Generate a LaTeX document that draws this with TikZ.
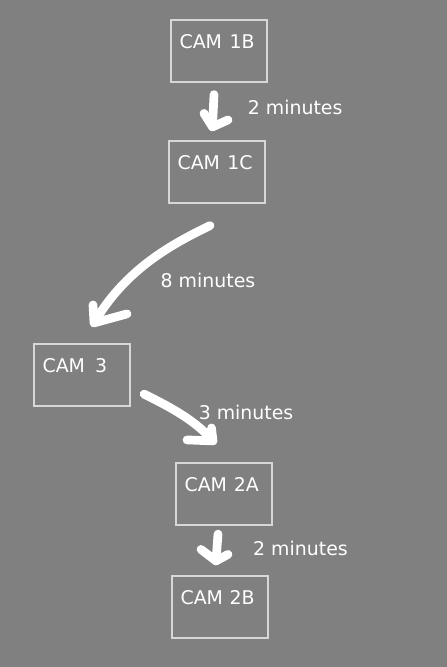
\documentclass[tikz,border=0pt]{standalone}
\usepackage{fontspec}
\setmainfont{DejaVu Sans}
\usetikzlibrary{calc}
\definecolor{bg}{RGB}{128,128,128}
\definecolor{boxline}{RGB}{215,215,215}
\tikzset{
  camera/.style={draw=boxline, line width=1.2pt, minimum width=96pt, minimum height=62pt, inner sep=0pt},
  camtext/.style={anchor=base west, inner sep=0pt, text=white, font=\fontsize{18.9}{22}\selectfont},
  timetext/.style={anchor=base west, inner sep=0pt, text=white, font=\fontsize{18.9}{22}\selectfont},
  stroke/.style={draw=white, line width=8.7pt, line cap=round, line join=round}
}
\begin{document}
\begin{tikzpicture}[x=1pt,y=-1pt]
\fill[bg] (0,0) rectangle (447,667);
\useasboundingbox (0,0) rectangle (447,667);
% boxes
\node[camera] (b1) at (219,51) {};
\node[camera] (c1) at (217,172) {};
\node[camera] (c3) at (82,375) {};
\node[camera] (a2) at (224,494) {};
\node[camera] (b2) at (220,607) {};
% box texts
\node[camtext] (t1) at ($(b1.north west)+(9,28.7)$) {CAM\hspace{7.7pt}1B};
\node[camtext] (t2) at ($(c1.north west)+(9,28.7)$) {CAM\hspace{7.3pt}1C};
\node[camtext] (t3) at ($(c3.north west)+(9,28.7)$) {CAM\hspace{10pt}3};
\node[camtext] (t4) at ($(a2.north west)+(9,28.7)$) {CAM\hspace{6.9pt}2A};
\node[camtext] (t5) at ($(b2.north west)+(9,28.7)$) {CAM\hspace{6.7pt}2B};
% time labels
\node[timetext] (l1) at (247.7,114.5) {2 minutes};
\node[timetext] (l2) at (160.5,287.5) {8 minutes};
\node[timetext] (l3) at (198.6,419.5) {3 minutes};
\node[timetext] (l4) at (253,555) {2 minutes};
% arrow 1: 1B -> 1C
\coordinate (a1s) at ($(b1.south)+(-5,12)$);
\coordinate (a1t) at ($(c1.north)+(-4.5,-13.5)$);
\draw[stroke] (a1s) -- (a1t);
\draw[stroke] ($(a1t)+(-8.5,-13.5)$) -- (a1t) -- ($(a1t)+(15.5,-7)$);
% arrow 2: 1C -> 3
\coordinate (a2s) at ($(c1.south)+(-7,22)$);
\coordinate (a2t) at ($(c3.north)+(12,-20.5)$);
\draw[stroke] (a2s) .. controls (170,245) and (125,270) .. (a2t);
\draw[stroke] ($(a2t)+(-1,-18)$) -- (a2t) -- ($(a2t)+(33,-9)$);
% arrow 3: 3 -> 2A
\coordinate (a3s) at ($(c3.south east)+(13.5,-12.5)$);
\coordinate (a3t) at ($(a2.north)+(-11,-21.5)$);
\draw[stroke] (a3s) .. controls (170,407) and (195,420) .. (a3t);
\draw[stroke] ($(a3t)+(-1.5,-13)$) -- (a3t) -- ($(a3t)+(-26,-1)$);
% arrow 4: 2A -> 2B
\coordinate (a4s) at ($(a2.south)+(-6,8.5)$);
\coordinate (a4t) at ($(b2.north)+(-4,-14.5)$);
\draw[stroke] (a4s) -- (a4t);
\draw[stroke] ($(a4t)+(-15,-11.5)$) -- (a4t) -- ($(a4t)+(12,-6.5)$);
\end{tikzpicture}
\end{document}
